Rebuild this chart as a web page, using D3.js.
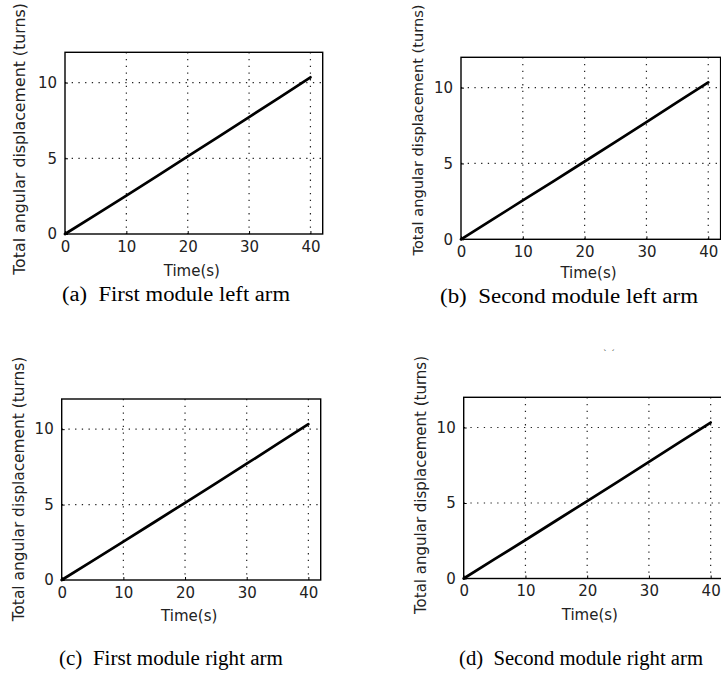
<!DOCTYPE html>
<html>
<head>
<meta charset="utf-8">
<script src="https://cdn.jsdelivr.net/npm/d3@7"></script>
<style>
  html, body { margin: 0; padding: 0; background: #fff; }
  svg { display: block; }
</style>
</head>
<body>
<svg id="fig" width="721" height="675"></svg>
<script>
// Sample times (s) and cumulative angular displacement (turns) for each arm
const timeS = [0, 5, 10, 15, 20, 25, 30, 35, 40];
const firstLeft   = [0, 1.27, 2.54, 3.82, 5.12, 6.42, 7.72, 9.03, 10.35];
const secondLeft  = [0, 1.28, 2.56, 3.84, 5.13, 6.43, 7.73, 9.04, 10.35];
const firstRight  = [0, 1.27, 2.55, 3.83, 5.12, 6.41, 7.71, 9.02, 10.33];
const secondRight = [0, 1.28, 2.55, 3.84, 5.13, 6.42, 7.72, 9.03, 10.33];

const xTicks = [0, 10, 20, 30, 40];
const yTicks = [0, 5, 10];
const xDomain = [0, 42];
const yDomain = [0, 12];

const yLabel = "Total angular displacement (turns)";
const xLabel = "Time(s)";
const captionTags = ["(a)", "(b)", "(c)", "(d)"];
const captionTexts = ["First module left arm", "Second module left arm",
                      "First module right arm", "Second module right arm"];

// plot box [left, right, top, bottom]; y-title [x, centre y, font size];
// x-title baseline offset; caption [left, right, baseline]
const panels = [
  { values: firstLeft,   box: [65, 322.7, 52.3, 234],     yt: [19, 139, 15.8],  xt: 42, cap: [62, 290, 301] },
  { values: secondLeft,  box: [461, 720.6, 57.3, 239.3],  yt: [418, 130, 14.6], xt: 39, cap: [440, 698, 303] },
  { values: firstRight,  box: [61.7, 320.7, 399, 580],    yt: [19, 489, 15.4],  xt: 41, cap: [59, 283, 665] },
  { values: secondRight, box: [463.7, 723, 397.3, 578.5], yt: [421, 485, 15],   xt: 41, cap: [459, 703, 665] }
];

const svg = d3.select("#fig");
const sans = "'DejaVu Sans', sans-serif";
const serif = "'Liberation Serif', 'Times New Roman', serif";

panels.forEach((p, i) => {
  const [x0, x1, y0, y1] = p.box;
  const x = d3.scaleLinear().domain(xDomain).range([x0, x1]);
  const y = d3.scaleLinear().domain(yDomain).range([y1, y0]);
  const g = svg.append("g");

  // dotted grid
  g.selectAll("line.gx").data(xTicks.filter(t => t > 0)).join("line")
    .attr("x1", d => x(d)).attr("x2", d => x(d))
    .attr("y1", y0).attr("y2", y1)
    .attr("stroke", "#222").attr("stroke-width", 1.2)
    .attr("stroke-dasharray", "1.3,5.4");
  g.selectAll("line.gy").data(yTicks.filter(t => t > 0)).join("line")
    .attr("y1", d => y(d)).attr("y2", d => y(d))
    .attr("x1", x0).attr("x2", x1)
    .attr("stroke", "#222").attr("stroke-width", 1.2)
    .attr("stroke-dasharray", "1.3,5.4");

  // axes with inward ticks
  const xAxis = g.append("g").attr("transform", `translate(0,${y1})`)
    .call(d3.axisBottom(x).tickValues(xTicks).tickSizeInner(-3).tickSizeOuter(0).tickPadding(7));
  const yAxis = g.append("g").attr("transform", `translate(${x0},0)`)
    .call(d3.axisLeft(y).tickValues(yTicks).tickSizeInner(-3).tickSizeOuter(0).tickPadding(8));
  [xAxis, yAxis].forEach(a => {
    a.select(".domain").remove();
    a.selectAll("text").attr("font-family", sans).attr("font-size", 15).attr("fill", "#222");
    a.selectAll(".tick line").attr("stroke", "#000");
  });
  xAxis.selectAll("text").attr("dy", "0.72em");

  // frame
  g.append("rect")
    .attr("x", x0).attr("y", y0).attr("width", x1 - x0).attr("height", y1 - y0)
    .attr("fill", "none").attr("stroke", "#000").attr("stroke-width", 1.4);

  // data line
  const line = d3.line().x((d, k) => x(timeS[k])).y(d => y(d));
  g.append("path").datum(p.values)
    .attr("d", line)
    .attr("fill", "none").attr("stroke", "#000").attr("stroke-width", 2.7)
    .attr("stroke-linejoin", "round").attr("stroke-linecap", "round");

  // axis titles
  g.append("text")
    .attr("x", (x0 + Math.min(x1, 720)) / 2 - 2).attr("y", y1 + p.xt)
    .attr("text-anchor", "middle").attr("font-family", sans).attr("font-size", 15)
    .attr("fill", "#222").text(xLabel);
  g.append("text")
    .attr("transform", `translate(${p.yt[0]},${p.yt[1]}) rotate(-90)`)
    .attr("text-anchor", "middle").attr("dy", "0.35em")
    .attr("font-family", sans).attr("font-size", p.yt[2])
    .attr("fill", "#222").text(yLabel);

  // caption
  const cap = g.append("text")
    .attr("x", p.cap[0]).attr("y", p.cap[2])
    .attr("font-family", serif).attr("font-size", 20).attr("fill", "#000")
    .attr("textLength", p.cap[1] - p.cap[0]).attr("lengthAdjust", "spacingAndGlyphs");
  cap.append("tspan").text(captionTags[i] + "\u2002" + captionTexts[i]);
});

// small stray marks above the last panel
svg.append("text").attr("x", 609).attr("y", 357).attr("text-anchor", "middle")
  .attr("font-family", sans).attr("font-size", 9).attr("fill", "#444").text("` ´");
</script>
</body>
</html>
